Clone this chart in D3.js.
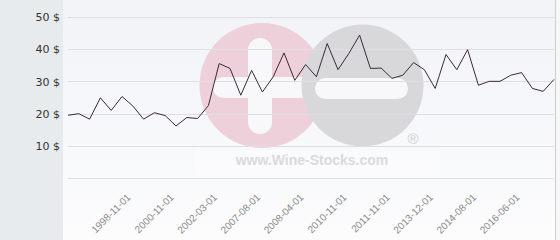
<!DOCTYPE html>
<html>
<head>
<meta charset="utf-8">
<script src="https://cdn.jsdelivr.net/npm/d3@7/dist/d3.min.js"></script>
<style>
  html, body { margin: 0; padding: 0; background: #fff; }
  svg { display: block; }
</style>
</head>
<body>
<div id="chart"></div>
<script>
// monthly price, one value per category
var prices = [19.5, 20.0, 18.3, 24.9, 21.0, 25.3, 22.4, 18.3, 20.3, 19.4,
              16.2, 18.8, 18.5, 22.5, 35.5, 34.0, 25.7, 33.4, 26.7, 31.4,
              38.8, 30.3, 35.2, 31.4, 41.7, 33.6, 38.6, 44.3, 34.0, 34.1,
              30.9, 31.9, 35.8, 33.6, 27.8, 38.3, 33.6, 39.8, 28.8, 30.0,
              30.0, 31.9, 32.7, 27.8, 26.9, 30.6];

// labelled categories (every 4th one is shown)
var tickLabels = ['1998-11-01', '2000-11-01', '2002-03-01', '2007-08-01', '2008-04-01',
                  '2010-11-01', '2011-11-01', '2013-12-01', '2014-08-01', '2016-06-01'];
var tickIndex = [6, 10, 14, 18, 22, 26, 30, 34, 38, 42];

var yTicks = [0, 10, 20, 30, 40, 50];

var W = 560, H = 240;

var svg = d3.select('#chart').append('svg')
    .attr('width', W)
    .attr('height', H);

var defs = svg.append('defs');
var grad = defs.append('linearGradient')
    .attr('id', 'bg')
    .attr('x1', 0).attr('y1', 0).attr('x2', 0).attr('y2', 1);
grad.append('stop').attr('offset', '0%').attr('stop-color', '#f1f3f7');
grad.append('stop').attr('offset', '100%').attr('stop-color', '#fcfcfd');

// backgrounds
svg.append('rect')
    .attr('x', 0).attr('y', 0)
    .attr('width', 63).attr('height', H)
    .attr('fill', '#e7ebee');
svg.append('rect')
    .attr('x', 63).attr('y', 0)
    .attr('width', 492).attr('height', H)
    .attr('fill', 'url(#bg)');
svg.append('rect')
    .attr('x', 555).attr('y', 0)
    .attr('width', 5).attr('height', H)
    .attr('fill', '#f7f7f8');
svg.append('line')
    .attr('x1', 555.5).attr('x2', 555.5)
    .attr('y1', 0).attr('y2', H)
    .attr('stroke', '#cdcdcf');

var x = d3.scaleLinear().domain([0, prices.length - 1]).range([68, 554]);
var y = d3.scaleLinear().domain([0, 50]).range([178.3, 16.7]);

// watermark logo
var logo = svg.append('g').attr('class', 'logo');
logo.append('rect')
    .attr('x', 195).attr('y', 150)
    .attr('width', 245).attr('height', 25)
    .attr('fill', '#ffffff').attr('opacity', 0.3);
logo.append('circle')
    .attr('cx', 262).attr('cy', 85.5).attr('r', 62.5)
    .attr('fill', '#edd0d9');
logo.append('rect')   // plus, vertical
    .attr('x', 248).attr('y', 38)
    .attr('width', 24).attr('height', 96)
    .attr('rx', 12)
    .attr('fill', '#f8f8fb');
logo.append('rect')   // plus, horizontal
    .attr('x', 213).attr('y', 77)
    .attr('width', 100).attr('height', 21)
    .attr('rx', 10.5)
    .attr('fill', '#f8f8fb');
logo.append('circle')
    .attr('cx', 362.5).attr('cy', 85.5).attr('r', 61)
    .attr('fill', '#d8d8da');
logo.append('rect')   // minus
    .attr('x', 315).attr('y', 78)
    .attr('width', 93).attr('height', 21)
    .attr('rx', 10.5)
    .attr('fill', '#f8f8fb');
logo.append('text')
    .attr('x', 413).attr('y', 144)
    .attr('text-anchor', 'middle')
    .attr('font-family', 'Liberation Sans, Arial, sans-serif')
    .attr('font-size', 15)
    .attr('fill', '#cfcfd1')
    .text('®');
logo.append('text')
    .attr('x', 312).attr('y', 165)
    .attr('text-anchor', 'middle')
    .attr('font-family', 'Liberation Sans, Arial, sans-serif')
    .attr('font-weight', 'bold')
    .attr('font-size', 14)
    .attr('fill', '#dadadc')
    .text('www.Wine-Stocks.com');

// y axis with grid lines
var yAxis = d3.axisLeft(y)
    .tickValues(yTicks)
    .tickSize(0)
    .tickPadding(0)
    .tickFormat(function(d){ return d === 0 ? '' : d + ' $'; });

var gy = svg.append('g')
    .attr('transform', 'translate(60,0)')
    .call(yAxis);
gy.select('.domain').remove();
gy.selectAll('text')
    .attr('font-family', 'DejaVu Sans, Verdana, sans-serif')
    .attr('font-size', 11)
    .attr('fill', '#333')
    .attr('dy', '0.36em');

svg.append('g')
    .selectAll('line')
    .data(yTicks)
    .enter()
    .append('line')
    .attr('x1', 68).attr('x2', 554)
    .attr('y1', function(d){ return Math.round(y(d)) + 0.5; })
    .attr('y2', function(d){ return Math.round(y(d)) + 0.5; })
    .attr('stroke', '#dfdfe3')
    .attr('stroke-width', 1);

// x axis labels
var xAxis = d3.axisBottom(x)
    .tickValues(tickIndex)
    .tickSize(0)
    .tickFormat(function(d, i){ return tickLabels[i]; });

var gx = svg.append('g')
    .attr('transform', 'translate(-2,198)')
    .call(xAxis);
gx.select('.domain').remove();
gx.selectAll('text')
    .attr('y', 0)
    .attr('dy', 0)
    .attr('text-anchor', 'end')
    .attr('transform', 'rotate(-45)')
    .attr('font-family', 'Liberation Sans, Arial, sans-serif')
    .attr('font-size', 10)
    .attr('fill', '#8a8a8a');

// price line
var line = d3.line()
    .x(function(d, i){ return x(i); })
    .y(function(d){ return y(d); });

svg.append('path')
    .datum(prices)
    .attr('d', line)
    .attr('fill', 'none')
    .attr('stroke', '#3b2a36')
    .attr('stroke-width', 1);
</script>
</body>
</html>
